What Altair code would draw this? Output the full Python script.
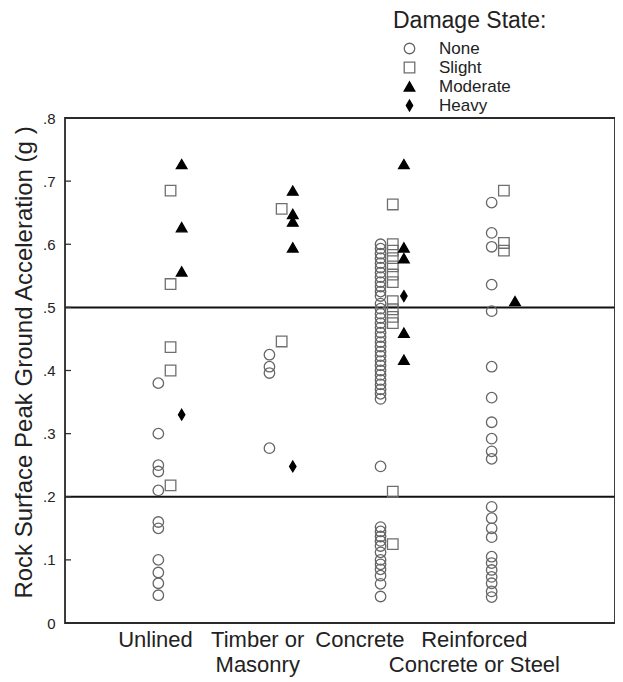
import altair as alt
import pandas as pd

categories = ["Unlined", "Timber or|Masonry", "Concrete", "Reinforced|Concrete or Steel"]
states = ["None", "Slight", "Moderate", "Heavy"]

unlined_none = [0.38, 0.30, 0.25, 0.24, 0.21, 0.16, 0.15, 0.10, 0.08, 0.063, 0.044]
unlined_slight = [0.685, 0.537, 0.437, 0.40, 0.218]
unlined_moderate = [0.727, 0.627, 0.557]
unlined_heavy = [0.33]

timber_none = [0.425, 0.406, 0.396, 0.277]
timber_slight = [0.656, 0.446]
timber_moderate = [0.685, 0.648, 0.636, 0.595]
timber_heavy = [0.248]

concrete_none = [0.600, 0.593, 0.585, 0.578, 0.570, 0.563, 0.555, 0.548, 0.540, 0.533, 0.525, 0.518,
                 0.506, 0.498, 0.490, 0.483, 0.475, 0.468, 0.460, 0.453, 0.445, 0.438, 0.430,
                 0.423, 0.415, 0.408, 0.400, 0.393, 0.385, 0.378, 0.370, 0.363, 0.355,
                 0.248,
                 0.152, 0.145, 0.137, 0.130, 0.122, 0.112, 0.100, 0.093, 0.085, 0.075, 0.062, 0.042]
concrete_slight = [0.663, 0.600, 0.590, 0.578, 0.565, 0.552, 0.540, 0.510, 0.497, 0.485, 0.475,
                   0.208, 0.125]
concrete_moderate = [0.727, 0.595, 0.578, 0.460, 0.417]
concrete_heavy = [0.518]

reinforced_none = [0.666, 0.618, 0.596, 0.536, 0.494, 0.406, 0.357, 0.318, 0.292, 0.272, 0.260,
                   0.184, 0.166, 0.150, 0.136, 0.105, 0.095, 0.084, 0.073, 0.063, 0.050, 0.041]
reinforced_slight = [0.685, 0.602, 0.590]
reinforced_moderate = [0.510]
reinforced_heavy = []

y_ticks = [0, 0.1, 0.2, 0.3, 0.4, 0.5, 0.6, 0.7, 0.8]
thresholds = [0.2, 0.5]
label_pos = [0.86, 1.78, 2.70, 3.73]
state_offset = {"None": -0.11, "Slight": 0.0, "Moderate": 0.1, "Heavy": 0.1}

groups = [
    [unlined_none, unlined_slight, unlined_moderate, unlined_heavy],
    [timber_none, timber_slight, timber_moderate, timber_heavy],
    [concrete_none, concrete_slight, concrete_moderate, concrete_heavy],
    [reinforced_none, reinforced_slight, reinforced_moderate, reinforced_heavy],
]

rows = []
for ci, sets in enumerate(groups):
    for state, vals in zip(states, sets):
        for v in vals:
            rows.append({"col": ci + 1, "state": state, "pga": v,
                         "xpos": ci + 1 + state_offset[state]})
df = pd.DataFrame(rows)

FONT = "Liberation Sans"
xscale = alt.Scale(domain=[0.05, 5.0], nice=False, zero=False)
yscale = alt.Scale(domain=[0, 0.8], nice=False, zero=True)

label_list = "[" + ",".join(["''"] + ["'" + c + "'" for c in categories]) + "]"
x_label_expr = "split(" + label_list + "[round(datum.value)], '|')"

points = alt.Chart(df).mark_point(filled=False, strokeWidth=1.3, opacity=1).encode(
    x=alt.X("xpos:Q", scale=xscale,
            axis=alt.Axis(values=label_pos, labelExpr=x_label_expr, title=None,
                          ticks=False, domain=False, grid=False, labelFont=FONT,
                          labelFontSize=22, labelColor="#222", labelPadding=6,
                          labelLineHeight=25, labelOverlap=False, labelFlush=False,
                          labelBound=False, labelAlign="center", labelBaseline="top")),
    y=alt.Y("pga:Q", scale=yscale,
            axis=alt.Axis(values=y_ticks,
                          labelExpr="datum.value == 0 ? '0' : replace(format(datum.value, '.1f'), '0.', '.')",
                          title="Rock Surface Peak Ground Acceleration (g )",
                          titleFont=FONT, titleFontSize=24, titleFontWeight="normal",
                          titleColor="#222", titleX=-41, titleY=244, titleAngle=270,
                          titleAlign="center", titleBaseline="middle",
                          ticks=False, domain=False, grid=False, labelFont=FONT,
                          labelFontSize=15, labelColor="#222", labelPadding=10)),
    shape=alt.Shape("state:N", scale=alt.Scale(domain=states, range=[
        "circle", "square", "triangle-up", "M0,-1L0.6,0L0,1L-0.6,0Z"]),
        legend=alt.Legend(title="Damage State:", orient="none", legendX=328, legendY=-108,
                          titleFont=FONT, titleFontSize=23, titleFontWeight="normal",
                          titleColor="#222", titlePadding=7, labelFont=FONT,
                          labelFontSize=17, labelColor="#222", rowPadding=1,
                          symbolOffset=8, labelOffset=21, padding=0,
                          symbolStrokeWidth=1.3)),
    fill=alt.Fill("state:N", scale=alt.Scale(domain=states, range=[
        "transparent", "transparent", "black", "black"]), legend=alt.Legend(title="Damage State:")),
    stroke=alt.Stroke("state:N", scale=alt.Scale(domain=states, range=[
        "#666", "#6f6f6f", "black", "black"]), legend=alt.Legend(title="Damage State:")),
    size=alt.Size("state:N", scale=alt.Scale(domain=states, range=[110, 115, 160, 289]),
                  legend=alt.Legend(title="Damage State:")),
)

tick_df = pd.DataFrame({"y": y_ticks})
ticks = alt.Chart(tick_df).mark_rule(color="#333", strokeWidth=1.3).encode(
    y=alt.Y("y:Q", scale=yscale), x=alt.value(0), x2=alt.value(6))

thr_df = pd.DataFrame({"y": thresholds})
lines = alt.Chart(thr_df).mark_rule(color="#111", strokeWidth=2).encode(
    y=alt.Y("y:Q", scale=yscale))

frame = alt.Chart(pd.DataFrame({"a": [0]})).mark_rect(
    fill="transparent", stroke="#2a2a2a", strokeWidth=1.8).encode(
    x=alt.value(0), x2=alt.value(550), y=alt.value(0), y2=alt.value(505))

chart = alt.layer(lines, ticks, frame, points).properties(
    width=550, height=505,
    autosize=alt.AutoSizeParams(type="none"),
    padding={"left": 57, "top": 110, "right": 0, "bottom": 55},
).configure_view(stroke=None).configure(background="white")

chart.save("out.html", embed_options={"renderer": "svg", "actions": False})
